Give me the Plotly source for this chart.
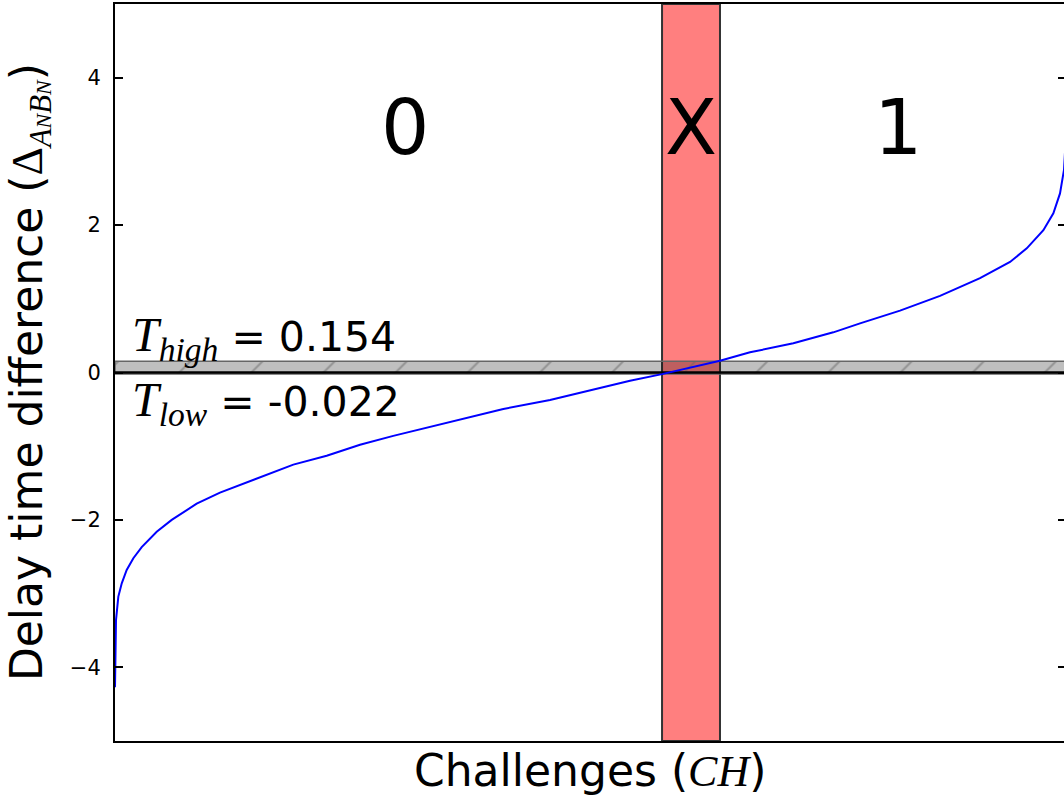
import plotly.graph_objects as go

# ---- data ----
challenge_frac = [0.0, 0.00105, 0.0035, 0.0071, 0.0123, 0.0193, 0.0281, 0.0439, 0.0597,
                  0.0860, 0.1105, 0.1351, 0.1561, 0.1877, 0.2228, 0.2579, 0.2929, 0.3281,
                  0.3632, 0.4087, 0.4579, 0.5000, 0.5421, 0.5758, 0.6368, 0.6684, 0.7140,
                  0.7561, 0.7842, 0.8263, 0.8684, 0.9105, 0.9421, 0.9597, 0.9772, 0.9877,
                  0.9947, 0.9989, 1.0]
delay_diff = [-4.27, -3.36, -3.04, -2.86, -2.68, -2.52, -2.37, -2.16, -2.00,
              -1.78, -1.63, -1.51, -1.40, -1.25, -1.13, -0.98, -0.86, -0.75,
              -0.635, -0.495, -0.373, -0.247, -0.111, -0.022, 0.16, 0.274, 0.396,
              0.545, 0.667, 0.839, 1.04, 1.28, 1.50, 1.685, 1.93, 2.16,
              2.43, 2.75, 3.0]
T_high = 0.154
T_low = -0.022
x_band = [0.5758, 0.6368]       # challenge range of the undecided region X
region_labels = ["0", "X", "1"]
region_x = [0.305, 0.6063, 0.824]
region_y = 3.32
y_ticks = [-4, -2, 0, 2, 4]
y_ticktext = ["−4", "−2", "0", "2", "4"]
y_range = [-5, 5]
x_range = [0, 0.9989]

SERIF = "Liberation Serif"
SANS = "DejaVu Sans"

fig = go.Figure()

# red undecided band
fig.add_trace(go.Scatter(
    x=[x_band[0], x_band[1], x_band[1], x_band[0], x_band[0]],
    y=[y_range[0], y_range[0], y_range[1], y_range[1], y_range[0]],
    fill="toself", fillcolor="rgba(255,0,0,0.5)",
    line=dict(color="#333333", width=2), mode="lines", hoverinfo="skip", showlegend=False))

# grey hatched threshold band
fig.add_trace(go.Scatter(
    x=[x_range[0], 1.0, 1.0, x_range[0], x_range[0]],
    y=[T_low, T_low, T_high, T_high, T_low],
    fill="toself",
    fillpattern=dict(shape="/", bgcolor="rgba(0,0,0,0.25)", fgcolor="#666666",
                     size=51, solidity=0.04),
    line=dict(color="#666666", width=1.5), mode="lines", hoverinfo="skip", showlegend=False))

# zero line
fig.add_trace(go.Scatter(x=[x_range[0], 1.0], y=[0, 0], mode="lines",
                         line=dict(color="black", width=2.5), hoverinfo="skip", showlegend=False))

# sorted delay differences
fig.add_trace(go.Scatter(x=challenge_frac, y=delay_diff, mode="lines",
                         line=dict(color="#0000ff", width=2), showlegend=False))

# invisible trace for the right-hand tick axis
fig.add_trace(go.Scatter(x=[0.5], y=[0], yaxis="y2", mode="markers",
                         marker=dict(opacity=0, size=1), hoverinfo="skip", showlegend=False))

for lab, xx in zip(region_labels, region_x):
    fig.add_annotation(x=xx, y=region_y, text=lab, showarrow=False,
                       font=dict(family=SANS, size=76, color="black"),
                       xanchor="center", yanchor="middle")

fig.add_annotation(x=0.0158, y=0.47, xanchor="left", yanchor="middle", showarrow=False,
                   text=f"<span style='font-family:{SERIF};font-size:48px'><i>T</i><sub><i>high</i></sub></span> = {T_high:.3f}",
                   font=dict(family=SANS, size=41, color="black"))
fig.add_annotation(x=0.0158, y=-0.42, xanchor="left", yanchor="middle", showarrow=False,
                   text=f"<span style='font-family:{SERIF};font-size:48px'><i>T</i><sub><i>low</i></sub></span> = {T_low:.3f}",
                   font=dict(family=SANS, size=41, color="black"))

# axis titles
fig.add_annotation(xref="paper", yref="paper", x=0.5, y=-0.04, yanchor="middle", xanchor="center",
                   showarrow=False,
                   text=f"Challenges (<span style='font-family:{SERIF}'><i>CH</i></span>)",
                   font=dict(family=SANS, size=44, color="black"))
fig.add_annotation(xref="paper", yref="paper", x=-0.09, y=0.50, xanchor="center", yanchor="middle",
                   showarrow=False, textangle=-90,
                   text=f"Delay time difference (<span style='font-family:{SERIF}'>Δ<sub><i>A<span style='font-size:22px'>N</span>B<span style='font-size:22px'>N</span></i></sub></span>)",
                   font=dict(family=SANS, size=44, color="black"))

fig.update_layout(
    width=1064, height=796,
    margin=dict(l=115, r=0, t=4, b=55),
    paper_bgcolor="white", plot_bgcolor="white",
    xaxis=dict(range=x_range, showgrid=False, zeroline=False, showticklabels=False,
               ticks="", showline=True, linecolor="black", linewidth=2, mirror=True),
    yaxis=dict(range=y_range, tickvals=y_ticks, ticktext=y_ticktext,
               showgrid=False, zeroline=False, ticks="inside", ticklen=8, tickwidth=1.5,
               tickcolor="black", showline=True, linecolor="black", linewidth=2,
               tickfont=dict(family=SANS, size=21, color="black"), ticklabelstandoff=8),
    yaxis2=dict(range=y_range, tickvals=y_ticks, overlaying="y", side="right",
                showgrid=False, zeroline=False, ticks="inside", ticklen=6, tickwidth=1.5,
                tickcolor="black", showticklabels=False, showline=False),
)

fig.write_html("out.html", config={"displayModeBar": False},
               post_script="document.body.style.margin='0px';document.body.style.overflow='hidden';")
